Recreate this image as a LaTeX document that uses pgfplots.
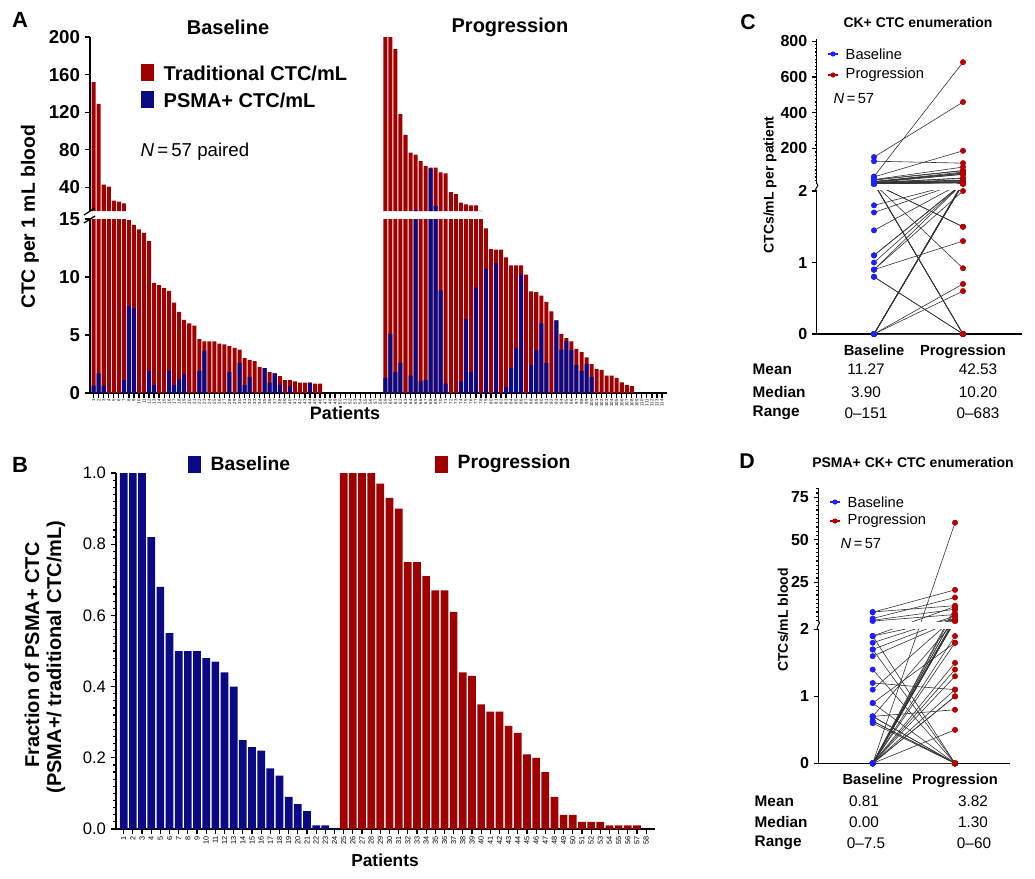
\documentclass[border=0pt]{standalone}
\usepackage{pgfplots}
\pgfplotsset{compat=1.18}
\usepackage{pgfplotstable}
\usepackage{fontspec}
\setmainfont{Liberation Sans}
\definecolor{cred}{RGB}{160,0,0}
\definecolor{cnavy}{RGB}{10,10,135}
\definecolor{dblue}{RGB}{30,30,255}
\definecolor{dred}{RGB}{180,0,0}
\newcommand\fs[1]{\fontsize{#1}{#1}\selectfont}

% Panel A: baseline (x, traditional, PSMA+)
\pgfplotstableread{
x t p
1 152 0.63
2 129 1.7
3 43 0.63
4 41 0
5 26 0
6 25 0
7 23 1.1
8 14.9 7.5
9 14.5 7.3
10 14.1 0
11 13.8 0
12 13.1 1.9
13 9.5 0.7
14 9.3 0
15 9.05 0
16 8.8 1.9
17 7.8 0.7
18 7.0 1.2
19 6.3 1.6
20 6.0 0
21 5.8 0
22 4.65 1.9
23 4.45 3.65
24 4.45 0
25 4.45 0
26 4.25 0
27 4.2 0
28 4.05 1.8
29 3.9 0
30 3.75 2.6
31 3.0 0.7
32 2.85 1.4
33 2.75 0
34 2.25 0
35 2.15 2.15
36 1.8 0.9
37 1.7 1.7
38 1.45 0.7
39 1.1 0
40 1.1 0.6
41 1.0 0
42 0.9 0
43 0.9 0
44 0.9 0.9
45 0.8 0
46 0.8 0
}\baseA

% Panel A: progression
\pgfplotstableread{
x t p
59 683 1.3
60 460 5.1
61 187 1.8
62 118 2.6
63 96 0
64 77 1.5
65 75 16
66 68 1.0
67 63 1.1
68 61 60
69 61 20.5
70 56 8.85
71 55 0.8
72 35 0
73 33 0
74 24 1.0
75 22 6.4
76 21 1.8
77 21 9.1
78 15.2 0
79 14.2 10.7
80 12.4 0
81 12.35 11.2
82 12.35 0
83 11.7 0.5
84 11.0 2.15
85 11.0 3.85
86 11.0 10.2
87 10.2 0
88 8.76 2.4
89 8.7 3.7
90 8.4 6.0
91 7.85 2.6
92 7.04 0
93 6.26 6.26
94 5.1 3.75
95 4.74 4.5
96 4.45 3.7
97 3.8 2.4
98 3.53 1.9
99 3.07 2.5
100 2.5 1.4
101 2.07 0
102 2.0 0
103 1.5 0
104 1.5 0
105 1.3 0
106 0.92 0
107 0.7 0
108 0.6 0
}\progA

% Panel B
\pgfplotstableread{
x f
1 1.0
2 1.0
3 1.0
4 0.82
5 0.68
6 0.55
7 0.50
8 0.50
9 0.50
10 0.48
11 0.47
12 0.44
13 0.40
14 0.25
15 0.23
16 0.22
17 0.17
18 0.15
19 0.09
20 0.07
21 0.05
22 0.01
23 0.01
24 0.002
}\baseB
\pgfplotstableread{
x f
25 1.0
26 1.0
27 1.0
28 1.0
29 0.97
30 0.93
31 0.90
32 0.75
33 0.75
34 0.71
35 0.67
36 0.67
37 0.61
38 0.44
39 0.43
40 0.35
41 0.33
42 0.33
43 0.29
44 0.27
45 0.21
46 0.20
47 0.16
48 0.09
49 0.04
50 0.04
51 0.02
52 0.02
53 0.02
54 0.01
55 0.01
56 0.01
57 0.01
58 0
}\progB

% Panel C: paired (baseline, progression)
\pgfplotstableread{
b p
152 460
129 118
43 683
41 187
26 96
25 77
23 75
14.9 68
14.5 63
14.1 61
13.8 61
13.1 56
9.5 55
9.3 35
9.05 33
8.8 24
7.8 22
7.0 21
6.3 21
6.0 0
5.8 15.2
4.65 14.2
4.45 12.4
4.45 0
4.45 12.35
4.25 11.7
4.2 0
4.05 11.0
3.9 8.76
3.75 1.5
3.0 8.7
2.85 0.92
2.75 0
2.25 7.85
2.15 1.5
1.8 10.2
1.7 12.35
1.45 11.0
1.1 7.04
1.1 4.74
1.0 5.1
0.9 1.3
0.9 6.26
0.9 2.0
0.8 0
0.8 0
0 11.0
0 8.4
0 4.45
0 3.8
0 3.53
0 3.07
0 2.5
0 2.07
0 0.7
0 0.6
0 0
}\pairC

% Panel D: paired (baseline, progression)
\pgfplotstableread{
b p
7.5 11.2
7.3 20.5
3.65 16
2.6 9.1
2.15 6.0
1.9 10.7
1.9 3.7
1.9 0
1.8 5.1
1.7 3.85
1.7 0
1.6 2.6
1.4 0
1.2 1.1
1.1 4.5
0.9 0
0.9 1.8
0.7 0
0.7 2.4
0.7 0
0.7 0.8
0.63 0
0.63 0
0.6 0
0 60
0 10.2
0 8.85
0 6.4
0 6.26
0 3.75
0 3.7
0 2.6
0 2.5
0 2.4
0 2.15
0 1.9
0 1.8
0 1.5
0 1.4
0 1.3
0 1.1
0 1.0
0 1.0
0 0.5
0 0
0 0
0 0
0 0
0 0
0 0
0 0
0 0
0 0
0 0
0 0
0 0
0 0
}\pairD

\begin{document}
\begin{tikzpicture}[declare function={TC(\v)=(\v<=2)*\v+(\v>2)*(2.1+(\v-2)/400); TD(\v)=(\v<=2)*\v+(\v>2)*(2.12+(\v-2)/39.4);}]
\pgfplotsset{myax/.style={scale only axis, anchor=south west, tick align=outside,
  axis line style={line width=1.2pt}, tick style={black, line width=0.9pt},
  /pgf/number format/assume math mode=true}}

% ---------------- Panel A upper
\begin{axis}[myax, at={(67.5pt,-158.25pt)}, width=432.75pt, height=130.5pt,
  xmin=0.264, xmax=115, ymin=15, ymax=200,
  axis x line=none, axis y line*=left, xtick=\empty,
  ytick={40,80,120,160,200}, major tick length=4pt,
  yticklabel style={font=\fs{14}\bfseries}]
\addplot[ybar, bar width=0.8, bar shift=0pt, fill=cred, draw=none, restrict y to domain=15.1:100000] table[x=x,y=t]{\baseA};
\addplot[ybar, bar width=0.8, bar shift=0pt, fill=cnavy, draw=none, restrict y to domain=15.1:100000] table[x=x,y=p]{\baseA};
\addplot[ybar, bar width=0.8, bar shift=0pt, fill=cred, draw=none, restrict y to domain=15.1:100000] table[x=x,y=t]{\progA};
\addplot[ybar, bar width=0.8, bar shift=0pt, fill=cnavy, draw=none, restrict y to domain=15.1:100000] table[x=x,y=p]{\progA};
\end{axis}

% ---------------- Panel A lower
\begin{axis}[myax, at={(67.5pt,-294.75pt)}, width=432.75pt, height=130.5pt,
  xmin=0.264, xmax=115, ymin=0, ymax=15,
  axis x line*=bottom, axis y line*=left,
  ytick={0,5,10,15}, xtick={1,...,114}, major tick length=4pt,
  yticklabel style={font=\fs{14}\bfseries},
  xticklabel style={rotate=90, anchor=east, font=\fs{3.3}, inner sep=0.6pt}]
\addplot[ybar, bar width=0.8, bar shift=0pt, fill=cred, draw=none] table[x=x,y=t]{\baseA};
\addplot[ybar, bar width=0.8, bar shift=0pt, fill=cnavy, draw=none] table[x=x,y=p]{\baseA};
\addplot[ybar, bar width=0.8, bar shift=0pt, fill=cred, draw=none] table[x=x,y=t]{\progA};
\addplot[ybar, bar width=0.8, bar shift=0pt, fill=cnavy, draw=none] table[x=x,y=p]{\progA};
\end{axis}

% ---------------- Panel B
\begin{axis}[myax, at={(87pt,-621.75pt)}, width=404.25pt, height=267pt,
  xmin=0.16, xmax=58.97, ymin=0, ymax=1,
  axis x line*=bottom, axis y line*=left,
  ytick={0,0.2,0.4,0.6,0.8,1}, minor y tick num=9, minor tick length=2pt, major tick length=4pt,
  xtick={1,...,58},
  yticklabel style={font=\fs{12.5}, /pgf/number format/.cd, fixed, fixed zerofill, precision=1},
  xticklabel style={rotate=90, anchor=east, font=\fs{5.5}, inner sep=1pt}]
\addplot[ybar, bar width=0.84, bar shift=0pt, fill=cnavy, draw=none] table[x=x,y=f]{\baseB};
\addplot[ybar, bar width=0.84, bar shift=0pt, fill=cred, draw=none] table[x=x,y=f]{\progB};
\end{axis}

% ---------------- Panel C
\begin{axis}[myax, at={(612.5pt,-250.5pt)}, width=154pt, height=220.9pt,
  xmin=-0.644, xmax=1.663, ymin=0, ymax=4.12, clip=false,
  axis x line*=bottom, axis y line*=left, axis line style={line width=1pt},
  y axis line style={draw=none},
  xtick={0,1}, xticklabels={Baseline,Progression}, xtick style={draw=none},
  ytick={0,1,2,2.595,3.095,3.595,4.095}, yticklabels={0,1,2,200,400,600,800},
  minor ytick={2.145,2.195,...,4.1}, minor tick length=1.5pt, major tick length=3.5pt,
  yticklabel style={font=\fs{12}\bfseries}, xticklabel style={font=\fs{11}\bfseries, yshift=-1pt}]
\draw[line width=1pt] (axis cs:-0.644,0) -- (axis cs:-0.644,2);
\draw[line width=1pt] (axis cs:-0.644,2.1) -- (axis cs:-0.644,4.12);
\addplot[black!80, line width=0.45pt, no markers, quiver={u=1, v={TC(\thisrow{p})-TC(\thisrow{b})}}]
  table[x expr=0, y expr={TC(\thisrow{b})}] {\pairC};
\fill[white] (axis cs:-0.55,2.008) rectangle (axis cs:1.6,2.092);
\draw[line width=0.8pt] (axis cs:-0.644,1.99) .. controls +(-3pt,2pt) and +(3pt,-2pt) .. (axis cs:-0.644,2.11);
\addplot[only marks, mark=*, mark size=2pt, dblue] table[x expr=0, y expr={TC(\thisrow{b})}] {\pairC};
\addplot[only marks, mark=*, mark size=2pt, dred] table[x expr=1, y expr={TC(\thisrow{p})}] {\pairC};
\end{axis}

% ---------------- Panel D
\begin{axis}[myax, at={(613.7pt,-572.5pt)}, width=143.8pt, height=206.5pt,
  xmin=-0.661, xmax=1.668, ymin=0, ymax=4.11, clip=false,
  axis x line*=bottom, axis y line*=left, axis line style={line width=1pt},
  y axis line style={draw=none},
  xtick={0,1}, xticklabels={Baseline,Progression}, xtick style={draw=none},
  ytick={0,1,2,2.7038,3.3383,3.9728}, yticklabels={0,1,2,25,50,75},
  minor ytick={2.1327,2.1961,...,4.1}, minor tick length=1.5pt, major tick length=3.5pt,
  yticklabel style={font=\fs{12}\bfseries}, xticklabel style={font=\fs{11}\bfseries, yshift=-1pt}]
\draw[line width=1pt] (axis cs:-0.661,0) -- (axis cs:-0.661,2);
\draw[line width=1pt] (axis cs:-0.661,2.12) -- (axis cs:-0.661,4.11);
\addplot[black!80, line width=0.45pt, no markers, quiver={u=1, v={TD(\thisrow{p})-TD(\thisrow{b})}}]
  table[x expr=0, y expr={TD(\thisrow{b})}] {\pairD};
\fill[white] (axis cs:-0.55,2.008) rectangle (axis cs:1.6,2.112);
\draw[line width=0.8pt] (axis cs:-0.661,1.99) .. controls +(-3pt,2pt) and +(3pt,-2pt) .. (axis cs:-0.661,2.13);
\addplot[only marks, mark=*, mark size=2pt, dblue] table[x expr=0, y expr={TD(\thisrow{b})}] {\pairD};
\addplot[only marks, mark=*, mark size=2pt, dred] table[x expr=1, y expr={TD(\thisrow{p})}] {\pairD};
\end{axis}

% ---------------- annotations (pixel units)
\begin{scope}[x=0.75pt,y=-0.75pt]
% A
\node[font=\fs{16.5}\bfseries] at (20,20) {A};
\node[font=\fs{15}\bfseries] at (228,27) {Baseline};
\node[font=\fs{15}\bfseries] at (510,27) {Progression};
\fill[cred] (141,64) rectangle (154,81);
\fill[cnavy] (141,91) rectangle (154,108);
\node[anchor=west, font=\fs{15}\bfseries] at (159,73) {Traditional CTC/mL};
\node[anchor=west, font=\fs{15}\bfseries] at (159,100) {PSMA+ CTC/mL};
\node[anchor=west, font=\fs{14}] at (136,152) {\textit{N}\,=\,57 paired};
\node[rotate=90, font=\fs{14.5}\bfseries] at (30,217) {CTC per 1 mL blood};
\node[font=\fs{13.5}\bfseries] at (345,413) {Patients};
\draw[line width=1pt] (84,215) -- (95,208);
\draw[line width=1pt] (84,223) -- (95,216);
% B
\node[font=\fs{16.5}\bfseries] at (20,465) {B};
\fill[cnavy] (188,456) rectangle (201,473);
\node[anchor=west, font=\fs{14.5}\bfseries] at (206,464) {Baseline};
\fill[cred] (435,456) rectangle (448,473);
\node[anchor=west, font=\fs{14.5}\bfseries] at (453,464) {Progression};
\node[rotate=90, font=\fs{15}\bfseries] at (32,655) {Fraction of PSMA+ CTC};
\node[rotate=90, font=\fs{15}\bfseries] at (56,657) {(PSMA+/ traditional CTC/mL)};
\node[font=\fs{13}\bfseries] at (385,860) {Patients};
% C
\node[font=\fs{16}\bfseries] at (748,22) {C};
\node[font=\fs{10.5}\bfseries] at (918,22) {CK+ CTC enumeration};
\draw[dblue, line width=0.8pt] (828,54) -- (838,54); \fill[dblue] (833,54) circle (2.6);
\draw[dred, line width=0.8pt] (828,75) -- (838,75); \fill[dred] (833,75) circle (2.6);
\node[anchor=west, font=\fs{11}] at (841,54) {Baseline};
\node[anchor=west, font=\fs{11}] at (841,75) {Progression};
\node[anchor=west, font=\fs{11}] at (829,99) {\textit{N}\,=\,57};
\node[rotate=90, font=\fs{10.5}\bfseries] at (770,185) {CTCs/mL per patient};
\node[anchor=west, font=\fs{11.5}\bfseries] at (748,369) {Mean};
\node[anchor=west, font=\fs{11.5}\bfseries] at (748,392) {Median};
\node[anchor=west, font=\fs{11.5}\bfseries] at (748,413) {Range};
\node[font=\fs{11.5}] at (866,369) {11.27};
\node[font=\fs{11.5}] at (978,369) {42.53};
\node[font=\fs{11.5}] at (866,392) {3.90};
\node[font=\fs{11.5}] at (978,392) {10.20};
\node[font=\fs{11.5}] at (866,413) {0–151};
\node[font=\fs{11.5}] at (978,413) {0–683};
% D
\node[font=\fs{16}\bfseries] at (747,461) {D};
\node[font=\fs{10.5}\bfseries] at (913,462) {PSMA+ CK+ CTC enumeration};
\draw[dblue, line width=0.8pt] (830,502) -- (840,502); \fill[dblue] (835,502) circle (2.6);
\draw[dred, line width=0.8pt] (830,521) -- (840,521); \fill[dred] (835,521) circle (2.6);
\node[anchor=west, font=\fs{11}] at (843,502) {Baseline};
\node[anchor=west, font=\fs{11}] at (843,521) {Progression};
\node[anchor=west, font=\fs{11}] at (836,544) {\textit{N}\,=\,57};
\node[rotate=90, font=\fs{10.5}\bfseries] at (783,620) {CTCs/mL blood};
\node[anchor=west, font=\fs{11.5}\bfseries] at (750,801) {Mean};
\node[anchor=west, font=\fs{11.5}\bfseries] at (750,822) {Median};
\node[anchor=west, font=\fs{11.5}\bfseries] at (750,843) {Range};
\node[font=\fs{11.5}] at (864,801) {0.81};
\node[font=\fs{11.5}] at (973,801) {3.82};
\node[font=\fs{11.5}] at (864,822) {0.00};
\node[font=\fs{11.5}] at (973,822) {1.30};
\node[font=\fs{11.5}] at (866,843) {0–7.5};
\node[font=\fs{11.5}] at (974,843) {0–60};
\end{scope}

\pgfresetboundingbox
\path[use as bounding box] (0pt,0pt) rectangle (776.25pt,-658.5pt);
\end{tikzpicture}
\end{document}
